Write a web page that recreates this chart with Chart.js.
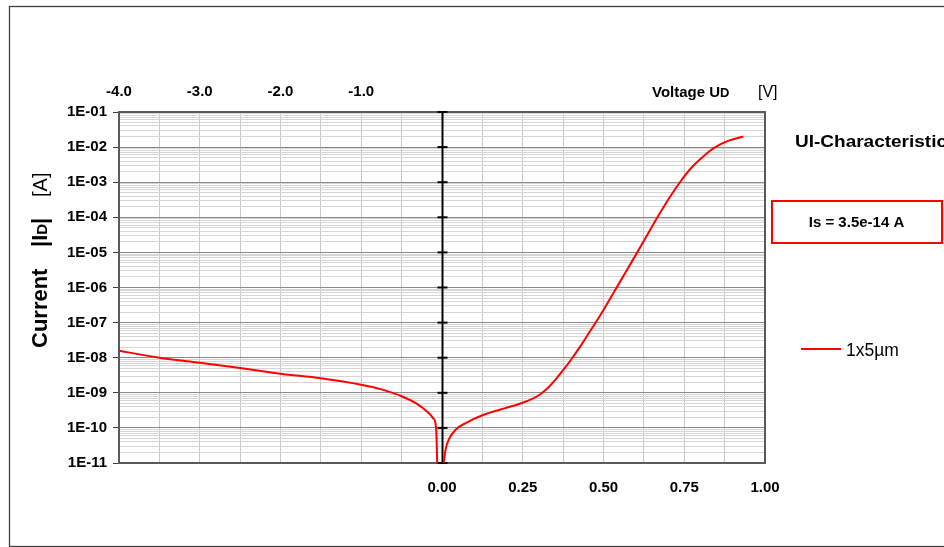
<!DOCTYPE html>
<html><head><meta charset="utf-8">
<style>html,body{margin:0;padding:0;background:#fff;overflow:hidden}canvas{display:block}</style>
<script src="https://cdn.jsdelivr.net/npm/chart.js@4.4.0/dist/chart.umd.min.js"></script>
</head><body>
<div style="position:relative;width:944px;height:547px"><canvas id="c" width="944" height="547"></canvas></div>
<script>
const FONT = "'Liberation Sans', Arial, Helvetica, sans-serif";

// Reverse branch (read against the top voltage axis, V)
const reverseVoltage = [-4.0, -3.5, -3.0, -2.5, -2.0, -1.5, -1.0, -0.75, -0.5, -0.32, -0.19, -0.11, -0.082, -0.07, -0.058];
const reverseCurrent = [1.58e-8, 1.0e-8, 7.2e-9, 5.1e-9, 3.5e-9, 2.6e-9, 1.7e-9, 1.25e-9, 8.0e-10, 5.0e-10, 3.0e-10, 1.9e-10, 1.4e-10, 7.4e-11, 8e-12];
// Forward branch (read against the bottom voltage axis, V)
const forwardVoltage = [0.004, 0.011, 0.021, 0.043, 0.075, 0.125, 0.193, 0.25, 0.30, 0.325, 0.35, 0.375, 0.40, 0.425, 0.45, 0.50, 0.55, 0.60, 0.65, 0.68, 0.71, 0.74, 0.77, 0.80, 0.83, 0.86, 0.89, 0.933];
const forwardCurrent = [8e-12, 2.4e-11, 4.7e-11, 9e-11, 1.4e-10, 2.3e-10, 3.6e-10, 5.2e-10, 8.5e-10, 1.3e-9, 2.3e-9, 4.4e-9, 8.9e-9, 1.9e-8, 4.3e-8, 2.3e-7, 1.4e-6, 8.5e-6, 5.4e-5, 1.58e-4, 4.37e-4, 1.1e-3, 2.45e-3, 4.57e-3, 7.9e-3, 1.17e-2, 1.55e-2, 2.0e-2];

const yDecades = [1e-11, 1e-10, 1e-9, 1e-8, 1e-7, 1e-6, 1e-5, 1e-4, 1e-3, 1e-2, 1e-1];
const yTickLabels = ['1E-11', '1E-10', '1E-09', '1E-08', '1E-07', '1E-06', '1E-05', '1E-04', '1E-03', '1E-02', '1E-01'];
const topTickValues = [-4, -3, -2, -1];
const topTickLabels = ['-4.0', '-3.0', '-2.0', '-1.0'];
const bottomTickValues = [0, 0.25, 0.5, 0.75, 1.0];
const bottomTickLabels = ['0.00', '0.25', '0.50', '0.75', '1.00'];
const seriesName = '1x5\u00B5m';
const chartTitle = 'UI-Characteristic';
const noteText = 'Is = 3.5e-14 A';

function findLabel(values, labels, v) {
  for (let i = 0; i < values.length; i++) {
    if (Math.abs(values[i] - v) <= Math.abs(values[i]) * 1e-6 + 1e-12) return labels[i];
  }
  return '';
}

const decor = {
  id: 'decor',
  beforeDraw(chart) {
    const ctx = chart.ctx;
    ctx.save();
    ctx.fillStyle = '#fff';
    ctx.fillRect(0, 0, chart.width, chart.height);
    ctx.strokeStyle = '#404040';
    ctx.lineWidth = 1.3;
    ctx.strokeRect(9.5, 6.5, 960, 540);
    ctx.restore();
  },
  beforeDatasetsDraw(chart) {
    const ctx = chart.ctx, a = chart.chartArea;
    const xs = chart.scales.x, ys = chart.scales.y;
    ctx.save();
    ctx.strokeStyle = '#5a5a5a';
    ctx.lineWidth = 2;
    ctx.strokeRect(a.left, a.top, a.right - a.left, a.bottom - a.top);
    const x0 = Math.round(xs.getPixelForValue(0)) + 0.5;
    ctx.strokeStyle = '#000';
    ctx.lineWidth = 2;
    ctx.beginPath();
    ctx.moveTo(x0, a.top); ctx.lineTo(x0, a.bottom);
    ctx.stroke();
    yDecades.forEach(v => {
      const y = ys.getPixelForValue(v);
      ctx.beginPath();
      ctx.moveTo(x0 - 5, y); ctx.lineTo(x0 + 5, y);
      ctx.stroke();
    });
    ctx.restore();
  },
  afterDraw(chart) {
    const ctx = chart.ctx;
    ctx.save();
    ctx.fillStyle = '#000';
    ctx.textBaseline = 'alphabetic';
    ctx.textAlign = 'left';
    // x axis title
    ctx.font = 'bold 15px ' + FONT;
    ctx.fillText('Voltage U', 652, 97);
    let w = ctx.measureText('Voltage U').width;
    ctx.font = 'bold 13px ' + FONT;
    ctx.fillText('D', 652 + w, 97);
    ctx.font = '16px ' + FONT;
    ctx.fillText('[V]', 758, 97);
    // y axis title (rotated)
    ctx.save();
    ctx.translate(47, 348);
    ctx.rotate(-Math.PI / 2);
    ctx.font = 'bold 22px ' + FONT;
    ctx.fillText('Current', 0, 0);
    ctx.fillText('|I', 101, 0);
    let w2 = ctx.measureText('|I').width;
    ctx.font = 'bold 15px ' + FONT;
    ctx.fillText('D', 101 + w2, 0);
    let w3 = ctx.measureText('D').width;
    ctx.font = 'bold 22px ' + FONT;
    ctx.fillText('|', 101 + w2 + w3, 0);
    ctx.font = '20px ' + FONT;
    ctx.fillText('[A]', 151, 0);
    ctx.restore();
    // chart title (cut by the right edge)
    ctx.save();
    ctx.font = 'bold 16px ' + FONT;
    const tw = ctx.measureText(chartTitle).width;
    ctx.translate(795, 147);
    ctx.scale(152 / tw, 1);
    ctx.fillText(chartTitle, 0, 0);
    ctx.restore();
    // note box
    ctx.strokeStyle = '#ff0000';
    ctx.lineWidth = 2;
    ctx.strokeRect(772, 201, 170, 42);
    ctx.font = 'bold 15px ' + FONT;
    ctx.textAlign = 'center';
    ctx.fillText(noteText, 856.5, 227);
    // legend
    ctx.textAlign = 'left';
    ctx.strokeStyle = '#ff0000';
    ctx.lineWidth = 2;
    ctx.beginPath();
    ctx.moveTo(801, 349); ctx.lineTo(841, 349);
    ctx.stroke();
    ctx.font = '17.5px ' + FONT;
    ctx.fillText(seriesName, 846, 356);
    ctx.restore();
  }
};

const lineStyle = {
  borderColor: '#ff0000', backgroundColor: '#ff0000', borderWidth: 2,
  pointRadius: 0, pointHoverRadius: 0, fill: false, cubicInterpolationMode: 'monotone'
};

new Chart(document.getElementById('c'), {
  type: 'line',
  data: {
    datasets: [
      Object.assign({ label: seriesName, xAxisID: 'xTop', yAxisID: 'y',
        data: reverseVoltage.map((v, i) => ({ x: v, y: reverseCurrent[i] })) }, lineStyle),
      Object.assign({ label: seriesName, xAxisID: 'x', yAxisID: 'y',
        data: forwardVoltage.map((v, i) => ({ x: v, y: forwardCurrent[i] })) }, lineStyle)
    ]
  },
  options: {
    responsive: false,
    animation: false,
    events: [],
    layout: { padding: { left: 0, top: 0, right: 179, bottom: 0 } },
    plugins: { legend: { display: false }, tooltip: { enabled: false }, title: { display: false } },
    scales: {
      x: {
        type: 'linear', position: 'bottom', min: -1, max: 1,
        afterFit: s => { s.height = 84; },
        ticks: {
          stepSize: 0.125, autoSkip: false, maxRotation: 0, padding: 16,
          color: '#000', font: { family: FONT, size: 15, weight: 'bold' },
          callback: v => findLabel(bottomTickValues, bottomTickLabels, v)
        },
        grid: { color: '#c8c8c8', lineWidth: 1, drawTicks: false },
        border: { display: false }
      },
      xTop: {
        type: 'linear', position: 'top', min: -4, max: 4,
        afterFit: s => { s.height = 112; },
        ticks: {
          stepSize: 1, autoSkip: false, maxRotation: 0, padding: 11,
          color: '#000', font: { family: FONT, size: 15, weight: 'bold' },
          callback: v => findLabel(topTickValues, topTickLabels, v)
        },
        grid: { display: false, drawTicks: false },
        border: { display: false }
      },
      y: {
        type: 'logarithmic', position: 'left', min: 1e-11, max: 1e-1,
        afterFit: s => { s.width = 119; },
        afterBuildTicks: s => {
          const t = [];
          yDecades.forEach((d, i) => {
            const last = i === yDecades.length - 1;
            for (let m = 1; m <= (last ? 1 : 9); m++) t.push({ value: m * d, major: m === 1 });
          });
          s.ticks = t;
        },
        ticks: {
          autoSkip: false, padding: 6, color: '#000',
          font: { family: FONT, size: 15, weight: 'bold' },
          callback: (v, i, ticks) => ticks[i].major ? findLabel(yDecades, yTickLabels, v) : ''
        },
        grid: {
          drawTicks: true, tickLength: 6,
          color: c => (c.tick && c.tick.major) ? '#8a8a8a' : '#d6d6d6',
          tickColor: c => (c.tick && c.tick.major) ? '#404040' : 'rgba(0,0,0,0)',
          lineWidth: 1
        },
        border: { display: false }
      }
    }
  },
  plugins: [decor]
});
</script>
</body></html>
